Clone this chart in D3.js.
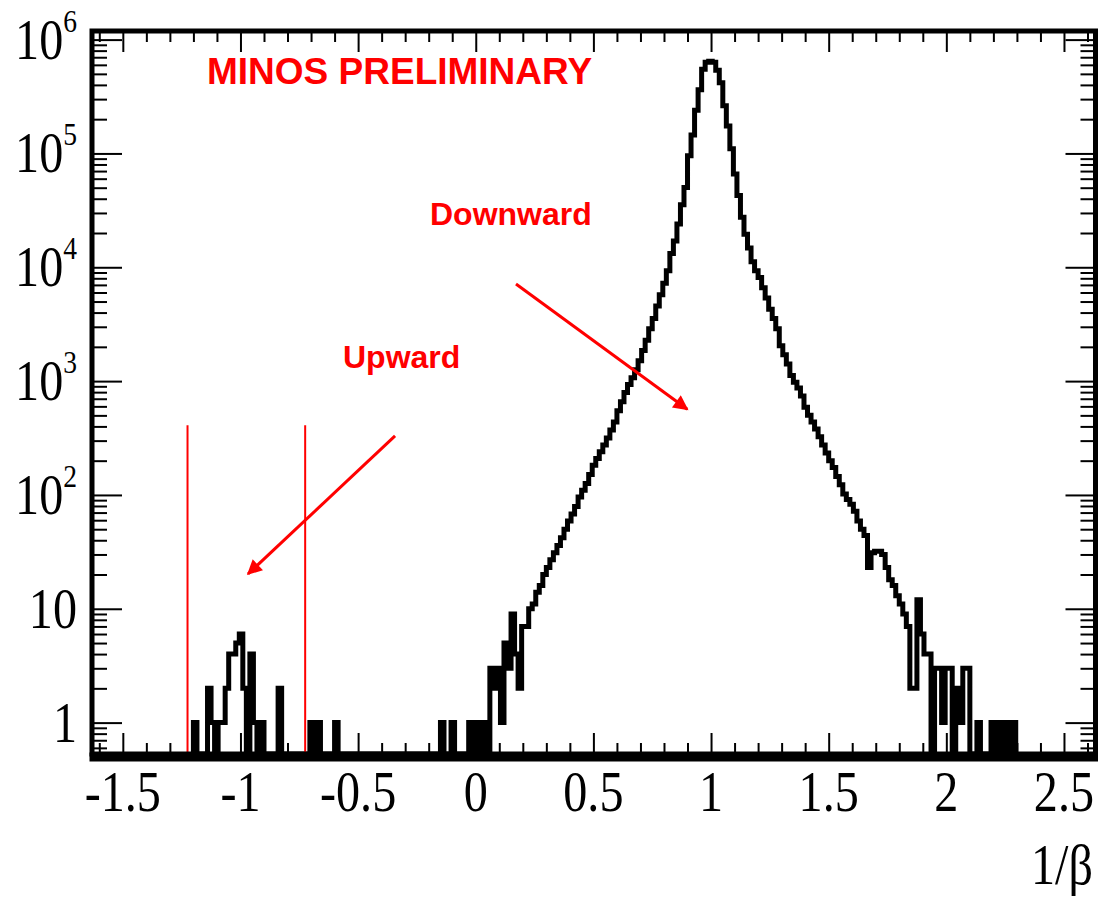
<!DOCTYPE html>
<meta charset="utf-8">
<style>
    html, body {
        margin: 0;
        padding: 0;
        background: #fff;
    }
    svg { display: block; }
    .lbl {
        font-family: "Liberation Serif", "Times New Roman", serif;
        fill: #000;
    }
    .note {
        font-family: "Liberation Sans", Arial, sans-serif;
        font-weight: bold;
        fill: #ff0000;
    }
</style>
<body>
<div id="chart"></div>
<script src="https://cdn.jsdelivr.net/npm/d3@7"></script>
<script>
    // 1/beta histogram, bins of 0.015 starting at -1.2
    var binStart = -1.2,
        binWidth = 0.015;

    var counts = [
        1, 0, 0, 0, 2, 1, 0, 1, 1, 2,
        4, 4, 5, 6, 2, 0, 4, 1, 0, 1,
        0, 0, 0, 0, 2, 0, 0, 0, 0, 0,
        0, 0, 0, 1, 0, 1, 0, 0, 0, 0,
        1, 0, 0, 0, 0, 0, 0, 0, 0, 0,
        0, 0, 0, 0, 0, 0, 0, 0, 0, 0,
        0, 0, 0, 0, 0, 0, 0, 0, 0, 0,
        1, 0, 0, 1, 0, 0, 0, 0, 1, 0,
        1, 0, 1, 0, 3, 2, 3, 1, 5, 3,
        9, 4, 2, 7, 7, 10, 11, 14, 16, 20,
        23, 27, 31, 36, 42, 50, 59, 68, 79, 96,
        110, 126, 151, 182, 209, 240, 275, 316, 372, 437,
        550, 660, 794, 933, 1070, 1260, 1510, 1860, 2290, 2880,
        3550, 4570, 5750, 7240, 9330, 13200, 17000, 24000, 35500, 50100,
        95500, 145000, 240000, 363000, 550000, 631000, 646000, 631000, 537000, 417000,
        263000, 174000, 110000, 66000, 42700, 27500, 19500, 14800, 11200, 9330,
        8130, 6600, 5370, 4270, 3550, 2880, 2040, 1700, 1410, 1120,
        977, 871, 741, 589, 501, 437, 380, 324, 275, 234,
        200, 174, 145, 123, 102, 91, 83, 72, 59, 50,
        44, 23, 31, 32, 32, 30, 23, 18, 16, 13,
        11, 9, 7, 2, 2, 12, 6, 4, 4, 0,
        3, 3, 1, 3, 3, 0, 2, 1, 3, 3,
        0, 0, 1, 0, 0, 0, 1, 0, 1, 0,
        1, 0, 1
    ];

    var xTickValues = [-1.5, -1, -0.5, 0, 0.5, 1, 1.5, 2, 2.5];
    var xTickLabels = ["-1.5", "-1", "-0.5", "0", "0.5", "1", "1.5", "2", "2.5"];
    var yTickValues = [1, 10, 100, 1e3, 1e4, 1e5, 1e6];
    var yTickBase = ["1", "10", "10", "10", "10", "10", "10"];
    var yTickExp = ["", "", "2", "3", "4", "5", "6"];

    // selection cuts for upward-going muons
    var cutLines = [-1.225, -0.725];
    var cutTop = 410;

    // annotation arrows, in data coordinates [x, y]
    var arrowFrom = [[0.171, 7130], [-0.343, 330]];
    var arrowTo = [[0.899, 565], [-0.968, 20.2]];

    var width = 1106, height = 902;
    var fLeft = 92, fRight = 1095.5, fTop = 31, fBottom = 754;

    var x = d3.scaleLinear().domain([-1.631, 2.634]).range([fLeft, fRight]);
    var y = d3.scaleLog().domain([0.53, 1.19e6]).range([fBottom, fTop]);
    var yMin = y.domain()[0];

    var svg = d3.select("#chart").append("svg")
        .attr("width", width)
        .attr("height", height);

    var defs = svg.append("defs");
    defs.append("marker")
        .attr("id", "head")
        .attr("viewBox", "0 0 10 10")
        .attr("markerUnits", "userSpaceOnUse")
        .attr("markerWidth", 20)
        .attr("markerHeight", 15)
        .attr("refX", 9)
        .attr("refY", 5)
        .attr("orient", "auto")
        .append("path")
        .attr("d", "M0,0 L10,5 L0,10 Z")
        .attr("fill", "#ff0000");

    // histogram outline (zero bins drop to the bottom of the frame)
    var pts = [{e: binStart, v: yMin}];
    counts.forEach(function(c, i) {
        pts.push({e: binStart + i * binWidth, v: c > 0 ? c : yMin});
    });
    pts.push({e: binStart + counts.length * binWidth, v: yMin});

    var line = d3.line()
        .x(function(d) { return x(d.e); })
        .y(function(d) { return y(d.v); })
        .curve(d3.curveStepAfter);

    svg.append("path")
        .datum(pts)
        .attr("d", line)
        .attr("fill", "none")
        .attr("stroke", "#000")
        .attr("stroke-width", 5);

    // cut lines
    svg.selectAll(".cut")
        .data(cutLines)
        .enter().append("line")
        .attr("class", "cut")
        .attr("x1", function(d) { return x(d); })
        .attr("x2", function(d) { return x(d); })
        .attr("y1", y(yMin))
        .attr("y2", y(cutTop))
        .attr("stroke", "#ff0000")
        .attr("stroke-width", 2);

    // arrows
    svg.selectAll(".arrow")
        .data(arrowFrom)
        .enter().append("line")
        .attr("class", "arrow")
        .attr("x1", function(d) { return x(d[0]); })
        .attr("y1", function(d) { return y(d[1]); })
        .attr("x2", function(d, i) { return x(arrowTo[i][0]); })
        .attr("y2", function(d, i) { return y(arrowTo[i][1]); })
        .attr("stroke", "#ff0000")
        .attr("stroke-width", 3)
        .attr("marker-end", "url(#head)");

    // ticks
    var xMinor = d3.range(-16, 27).map(function(i) { return i / 10; })
        .filter(function(v) { return Math.abs(v * 2 - Math.round(v * 2)) > 1e-6; });
    var yMinor = [];
    [0.1, 1, 10, 100, 1e3, 1e4, 1e5, 1e6].forEach(function(d) {
        for (var m = 2; m < 10; m++) {
            var v = d * m;
            if (v > y.domain()[0] && v < y.domain()[1]) yMinor.push(v);
        }
    });

    function tickAxis(axis, vals, size, tx, ty) {
        var g = svg.append("g")
            .attr("transform", "translate(" + tx + "," + ty + ")")
            .call(axis.tickValues(vals).tickSize(size).tickFormat(""));
        g.select(".domain").remove();
        g.selectAll("line").attr("stroke", "#000").attr("stroke-width", 2);
    }

    tickAxis(d3.axisBottom(x), xTickValues, -21, 0, fBottom);
    tickAxis(d3.axisBottom(x), xMinor, -11, 0, fBottom);
    tickAxis(d3.axisTop(x), xTickValues, -21, 0, fTop);
    tickAxis(d3.axisTop(x), xMinor, -11, 0, fTop);
    tickAxis(d3.axisLeft(y), yTickValues, -30, fLeft, 0);
    tickAxis(d3.axisLeft(y), yMinor, -15, fLeft, 0);
    tickAxis(d3.axisRight(y), yTickValues, -30, fRight, 0);
    tickAxis(d3.axisRight(y), yMinor, -15, fRight, 0);

    // frame
    svg.append("rect")
        .attr("x", fLeft)
        .attr("y", fTop)
        .attr("width", fRight - fLeft)
        .attr("height", fBottom - fTop)
        .attr("fill", "none")
        .attr("stroke", "#000")
        .attr("stroke-width", 5);
    svg.append("line")
        .attr("x1", fLeft - 2.5).attr("x2", fRight + 2.5)
        .attr("y1", fBottom + 3).attr("y2", fBottom + 3)
        .attr("stroke", "#000")
        .attr("stroke-width", 9);

    // x labels
    xTickValues.forEach(function(v, i) {
        svg.append("g")
            .attr("transform", "translate(" + x(v) + ",811) scale(0.86,1)")
            .append("text")
            .attr("class", "lbl")
            .attr("text-anchor", "middle")
            .attr("font-size", 56)
            .text(xTickLabels[i]);
    });

    // y labels
    yTickValues.forEach(function(v, i) {
        var t = svg.append("g")
            .attr("transform", "translate(77," + (y(v) + 19) + ") scale(0.86,1)")
            .append("text")
            .attr("class", "lbl")
            .attr("text-anchor", "end")
            .attr("font-size", 56);
        t.append("tspan").text(yTickBase[i]);
        if (yTickExp[i]) {
            t.append("tspan")
                .attr("font-size", 32)
                .attr("dy", -27)
                .text(yTickExp[i]);
        }
    });

    svg.append("g")
        .attr("transform", "translate(1093,884) scale(0.86,1)")
        .append("text")
        .attr("class", "lbl")
        .attr("text-anchor", "end")
        .attr("font-size", 56)
        .text("1/\u03b2");

    // annotations
    svg.append("text").attr("class", "note")
        .attr("x", 207).attr("y", 84)
        .attr("font-size", 37)
        .text("MINOS PRELIMINARY");
    svg.append("text").attr("class", "note")
        .attr("x", 430).attr("y", 225)
        .attr("font-size", 32)
        .text("Downward");
    svg.append("text").attr("class", "note")
        .attr("x", 343).attr("y", 368)
        .attr("font-size", 32)
        .text("Upward");
</script>
</body>
